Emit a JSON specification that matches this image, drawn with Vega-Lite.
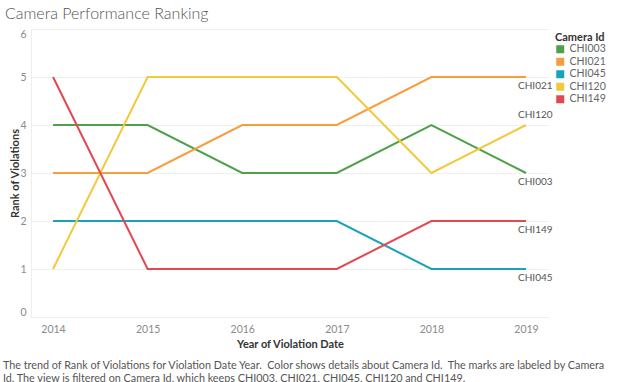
{
  "$schema": "https://vega.github.io/schema/vega-lite/v6.json",
  "background": "white",
  "padding": {"left": 2, "top": 6, "right": 0, "bottom": 0},
  "title": {"text": "Camera Performance Ranking", "anchor": "start", "fontSize": 16, "font": "Lato", "fontWeight": 300, "color": "#555555", "offset": 7, "dx": 2},
  "resolve": {"legend": {"color": "independent"}},
  "config": {
    "view": {"stroke": null},
    "font": "Lato",
    "axis": {"labelFont": "Lato", "titleFont": "Lato", "labelColor": "#8a8a8a", "labelFontSize": 10.5, "titleColor": "#333333", "titleFontSize": 11, "titleFontWeight": "bold", "ticks": false, "domainColor": "#eeeeee", "gridColor": "#f0f0f0"},
    "legend": {"titleFont": "Lato", "labelFont": "Lato", "titleFontSize": 11, "titleColor": "#333333", "titleFontWeight": "bold", "labelFontSize": 10.5, "labelColor": "#666666", "symbolType": "square", "symbolSize": 64, "rowPadding": 1.5, "offset": 3, "padding": 3, "titlePadding": 1, "labelOffset": 4}
  },
  "vconcat": [
    {
      "width": 518,
      "height": 288,
      "title": {"text": ["The trend of Rank of Violations for Violation Date Year.\u00a0 Color shows details about Camera Id.\u00a0 The marks are labeled by Camera", "Id. The view is filtered on Camera Id, which keeps CHI003, CHI021, CHI045, CHI120 and CHI149."], "orient": "bottom", "anchor": "start", "fontSize": 10.8, "fontWeight": "normal", "color": "#555555", "font": "Lato", "offset": 10, "dx": -7, "lineHeight": 13},
      "data": {"values": [
        {"camera": "CHI003", "year": 2014, "rank": 4},
        {"camera": "CHI003", "year": 2015, "rank": 4},
        {"camera": "CHI003", "year": 2016, "rank": 3},
        {"camera": "CHI003", "year": 2017, "rank": 3},
        {"camera": "CHI003", "year": 2018, "rank": 4},
        {"camera": "CHI003", "year": 2019, "rank": 3},
        {"camera": "CHI021", "year": 2014, "rank": 3},
        {"camera": "CHI021", "year": 2015, "rank": 3},
        {"camera": "CHI021", "year": 2016, "rank": 4},
        {"camera": "CHI021", "year": 2017, "rank": 4},
        {"camera": "CHI021", "year": 2018, "rank": 5},
        {"camera": "CHI021", "year": 2019, "rank": 5},
        {"camera": "CHI045", "year": 2014, "rank": 2},
        {"camera": "CHI045", "year": 2015, "rank": 2},
        {"camera": "CHI045", "year": 2016, "rank": 2},
        {"camera": "CHI045", "year": 2017, "rank": 2},
        {"camera": "CHI045", "year": 2018, "rank": 1},
        {"camera": "CHI045", "year": 2019, "rank": 1},
        {"camera": "CHI120", "year": 2014, "rank": 1},
        {"camera": "CHI120", "year": 2015, "rank": 5},
        {"camera": "CHI120", "year": 2016, "rank": 5},
        {"camera": "CHI120", "year": 2017, "rank": 5},
        {"camera": "CHI120", "year": 2018, "rank": 3},
        {"camera": "CHI120", "year": 2019, "rank": 4},
        {"camera": "CHI149", "year": 2014, "rank": 5},
        {"camera": "CHI149", "year": 2015, "rank": 1},
        {"camera": "CHI149", "year": 2016, "rank": 1},
        {"camera": "CHI149", "year": 2017, "rank": 1},
        {"camera": "CHI149", "year": 2018, "rank": 2},
        {"camera": "CHI149", "year": 2019, "rank": 2}
      ]},
      "encoding": {
        "x": {"field": "year", "type": "quantitative", "scale": {"domain": [2013.767, 2019.243], "nice": false, "zero": false}, "axis": {"values": [2014, 2015, 2016, 2017, 2018, 2019], "format": "d", "grid": false, "title": "Year of Violation Date", "labelPadding": 7, "titlePadding": 4}},
        "y": {"field": "rank", "type": "quantitative", "scale": {"domain": [0, 6], "nice": false}, "axis": {"values": [0, 1, 2, 3, 4, 5, 6], "title": "Rank of Violations", "labelPadding": 5, "titlePadding": -1, "labelFlush": true, "labelFlushOffset": 0}}
      },
      "layer": [
        {
          "mark": {"type": "line", "strokeWidth": 2},
          "encoding": {
            "color": {"field": "camera", "type": "nominal", "title": "Camera Id", "scale": {"domain": ["CHI003", "CHI021", "CHI045", "CHI120", "CHI149"], "range": ["#4FA04A", "#F89D3B", "#19A3B8", "#F2C93B", "#E3474F"]}, "legend": {"symbolType": "square", "symbolStrokeWidth": 0, "encode": {"symbols": {"update": {"fill": {"scale": "color", "field": "value"}, "fillOpacity": {"value": 1}, "strokeWidth": {"value": 0}}}}}}
          }
        },
        {
          "transform": [{"filter": "datum.year == 2019 && datum.camera != 'CHI120'"}],
          "mark": {"type": "text", "align": "left", "baseline": "middle", "dx": -8, "dy": 9, "fontSize": 10, "color": "#555555", "font": "Lato"},
          "encoding": {"text": {"field": "camera"}}
        },
        {
          "transform": [{"filter": "datum.year == 2019 && datum.camera == 'CHI120'"}],
          "mark": {"type": "text", "align": "left", "baseline": "middle", "dx": -8, "dy": -10, "fontSize": 10, "color": "#555555", "font": "Lato"},
          "encoding": {"text": {"field": "camera"}}
        }
      ]
    }
  ]
}
